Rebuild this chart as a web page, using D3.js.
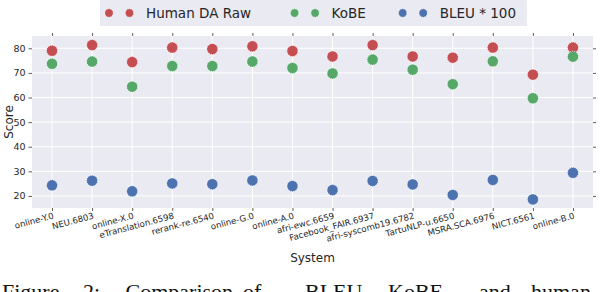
<!DOCTYPE html>
<html>
<head>
<meta charset="utf-8">
<script src="https://cdn.jsdelivr.net/npm/d3@7"></script>
<style>
  body { margin: 0; background: #fff; }
  svg { display: block; font-family: "DejaVu Sans", sans-serif; }
</style>
</head>
<body>
<svg width="602" height="292"></svg>
<script>
// values
var systems = ["online-Y.0", "NEU.6803", "online-X.0", "eTranslation.6598", "rerank-re.6540",
    "online-G.0", "online-A.0", "afri-ewc.6659", "Facebook_FAIR.6937", "afri-syscomb19.6782",
    "TartuNLP-u.6650", "MSRA.SCA.6976", "NICT.6561", "online-B.0"];
var humanDA = [79.0, 81.3, 74.4, 80.3, 79.7, 80.8, 78.9, 76.7, 81.3, 76.7, 76.2, 80.3, 69.3, 80.3];
var kobe    = [73.7, 74.6, 64.4, 72.8, 72.8, 74.6, 72.0, 69.8, 75.4, 71.3, 65.4, 74.7, 59.7, 76.6];
var bleu    = [24.3, 26.2, 21.9, 25.1, 24.8, 26.3, 24.0, 22.4, 26.1, 24.7, 20.4, 26.5, 18.6, 29.4];
var yTicks  = [20, 30, 40, 50, 60, 70, 80];

var series = [
    {name: "Human DA Raw", values: humanDA, color: "#C44E52"},
    {name: "KoBE", values: kobe, color: "#55A868"},
    {name: "BLEU * 100", values: bleu, color: "#4C72B0"}
];

var svg = d3.select("svg");
var plotL = 32, plotR = 593, plotT = 36, plotB = 208;
var textColor = "#262626";

var x = d3.scalePoint().domain(systems).range([plotL, plotR]).padding(0.5);
var y = d3.scaleLinear().domain([15.1, 85]).range([plotB, plotT]);

// plot background
svg.append("rect")
    .attr("x", plotL).attr("y", plotT)
    .attr("width", plotR - plotL).attr("height", plotB - plotT)
    .attr("fill", "#EAEAF2");

// grid
svg.append("g").selectAll("line")
    .data(yTicks).enter().append("line")
    .attr("x1", plotL).attr("x2", plotR)
    .attr("y1", function(d) { return y(d); })
    .attr("y2", function(d) { return y(d); })
    .attr("stroke", "#fff").attr("stroke-width", 1);
svg.append("g").selectAll("line")
    .data(systems).enter().append("line")
    .attr("y1", plotT).attr("y2", plotB)
    .attr("x1", function(d) { return x(d); })
    .attr("x2", function(d) { return x(d); })
    .attr("stroke", "#fff").attr("stroke-width", 1);

// axes
var yAxis = svg.append("g")
    .attr("transform", "translate(" + plotL + ",0)")
    .call(d3.axisLeft(y).tickValues(yTicks).tickSize(3.5).tickPadding(3));
var yAxisR = svg.append("g")
    .attr("transform", "translate(" + plotR + ",0)")
    .call(d3.axisRight(y).tickValues(yTicks).tickSize(3).tickFormat(""));
var xAxisTop = svg.append("g")
    .attr("transform", "translate(0," + plotT + ")")
    .call(d3.axisTop(x).tickSize(3).tickFormat(""));
var xAxis = svg.append("g")
    .attr("transform", "translate(0," + plotB + ")")
    .call(d3.axisBottom(x).tickSize(3).tickFormat(""));

[yAxis, yAxisR, xAxisTop, xAxis].forEach(function(a) {
    a.select(".domain").remove();
    a.selectAll(".tick line").attr("stroke", "#333").attr("stroke-width", 0.8);
});
yAxis.selectAll("text")
    .attr("font-size", 9.5)
    .attr("fill", textColor)
    .attr("font-family", "DejaVu Sans");

// rotated x tick labels
svg.append("g").selectAll("text")
    .data(systems).enter().append("text")
    .attr("transform", function(d) { return "translate(" + (x(d) + 0.5) + ",212) rotate(-15)"; })
    .attr("text-anchor", "end")
    .attr("dy", "0.76em")
    .attr("font-size", 8.6)
    .attr("fill", textColor)
    .text(function(d) { return d; });

// axis titles
svg.append("text")
    .attr("transform", "translate(12.5," + ((plotT + plotB) / 2) + ") rotate(-90)")
    .attr("text-anchor", "middle")
    .attr("font-size", 12)
    .attr("fill", textColor)
    .text("Score");
svg.append("text")
    .attr("x", (plotL + plotR) / 2).attr("y", 262)
    .attr("text-anchor", "middle")
    .attr("font-size", 12)
    .attr("fill", textColor)
    .text("System");

// points
series.forEach(function(s) {
    svg.append("g").selectAll("circle")
        .data(s.values).enter().append("circle")
        .attr("cx", function(d, i) { return x(systems[i]); })
        .attr("cy", function(d) { return y(d); })
        .attr("r", 5.5)
        .attr("fill", s.color)
        .attr("stroke", "#fff")
        .attr("stroke-opacity", 0.75)
        .attr("stroke-width", 1)
        .attr("stroke-dasharray", "1.2,1");
});

// legend
var legendPos = [109, 294.6, 402.7];
svg.append("rect")
    .attr("x", 100).attr("y", 0)
    .attr("width", 427).attr("height", 26)
    .attr("fill", "#EAEAF2");
var legend = svg.selectAll(".legend")
    .data(series).enter().append("g")
    .attr("class", "legend")
    .attr("transform", function(d, i) { return "translate(" + legendPos[i] + ",13)"; });
legend.selectAll("circle")
    .data(function(d) { return [d, d]; })
    .enter().append("circle")
    .attr("cx", function(d, i) { return i * 20.5; })
    .attr("cy", 0)
    .attr("r", 4.2)
    .attr("fill", function(d) { return d.color; })
    .attr("stroke", "#fff")
    .attr("stroke-opacity", 0.75)
    .attr("stroke-width", 0.9)
    .attr("stroke-dasharray", "1.2,1");
legend.append("text")
    .attr("x", 37)
    .attr("y", 5)
    .attr("font-size", 13.5)
    .attr("fill", textColor)
    .text(function(d) { return d.name; });

// caption (cut off at the bottom edge, as in the source)
var captionWords = ["Figure", "2:", "Comparison", "of", "BLEU,", "KoBE", "and", "human"];
var captionX = [2, 83, 125.5, 243, 305, 388, 479, 531];
svg.append("g").selectAll("text")
    .data(captionWords).enter().append("text")
    .attr("x", function(d, i) { return captionX[i]; })
    .attr("y", 299)
    .attr("font-family", "Liberation Serif, serif")
    .attr("font-size", 22)
    .attr("fill", "#111")
    .text(function(d) { return d; });
</script>
</body>
</html>
